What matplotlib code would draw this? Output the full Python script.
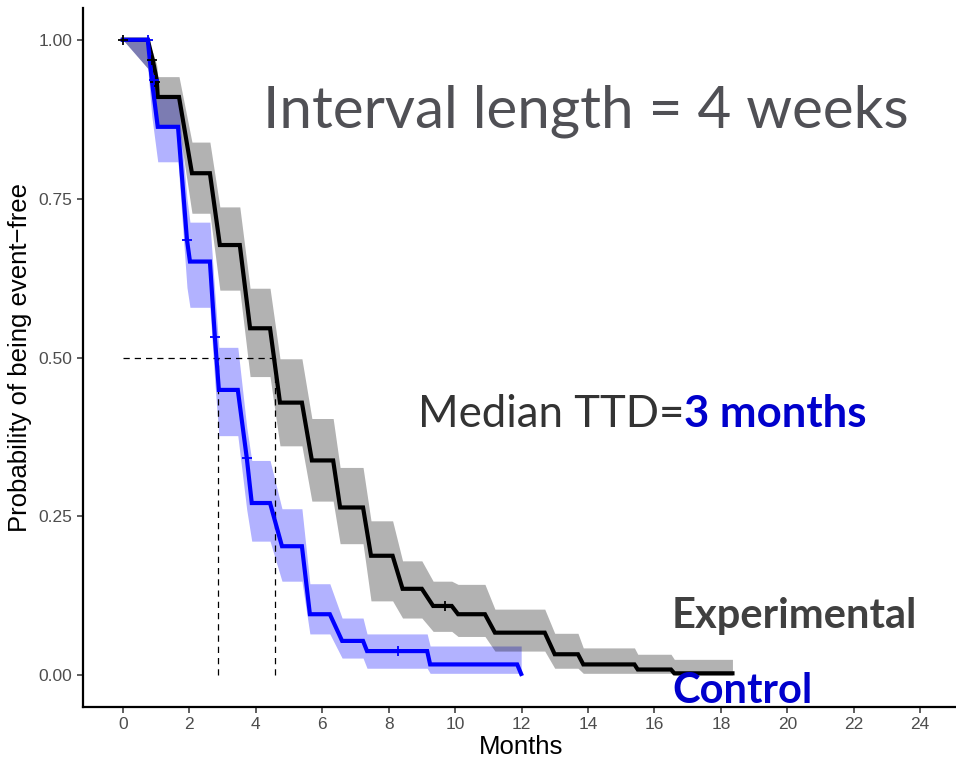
import matplotlib
matplotlib.use("Agg")
import matplotlib.pyplot as plt

# Experimental arm: KM curve vertices (months, survival) with CI band
exp_t = [0, 0.75, 0.9, 1.02, 1.05, 1.69, 2.08, 2.62, 2.92, 3.52, 3.83, 4.43, 4.73, 5.39,
         5.69, 6.33, 6.54, 7.23, 7.47, 8.12, 8.42, 9.0, 9.34, 9.9, 10.09, 10.9, 11.2,
         12.7, 13.0, 13.7, 13.86, 15.4, 15.5, 16.5, 16.6, 18.35]
exp_s = [1.0, 1.0, 0.968, 0.937, 0.91, 0.91, 0.79, 0.79, 0.677, 0.677, 0.546, 0.546,
         0.429, 0.429, 0.338, 0.338, 0.264, 0.264, 0.188, 0.188, 0.136, 0.136, 0.109,
         0.109, 0.096, 0.096, 0.067, 0.067, 0.033, 0.033, 0.017, 0.017, 0.009, 0.009,
         0.003, 0.003]
exp_hi = [1.0, 1.0, 0.98, 0.96, 0.942, 0.942, 0.839, 0.839, 0.737, 0.737, 0.609, 0.609,
          0.498, 0.498, 0.404, 0.404, 0.327, 0.327, 0.243, 0.243, 0.18, 0.18, 0.148,
          0.148, 0.143, 0.143, 0.104, 0.104, 0.066, 0.066, 0.043, 0.043, 0.033, 0.033,
          0.025, 0.025]
exp_lo = [1.0, 0.955, 0.92, 0.885, 0.863, 0.863, 0.727, 0.727, 0.606, 0.606, 0.47, 0.47,
          0.361, 0.361, 0.274, 0.274, 0.207, 0.207, 0.117, 0.117, 0.09, 0.09, 0.069,
          0.069, 0.061, 0.061, 0.038, 0.038, 0.011, 0.011, 0.003, 0.003, 0.003, 0.003,
          0.0, 0.0]
exp_cens_t = [0, 0.87, 0.96, 9.7]
exp_cens_s = [1.0, 0.968, 0.934, 0.109]

# Control arm
ctl_t = [0, 0.75, 0.87, 1.05, 1.66, 1.93, 2.02, 2.62, 2.77, 2.89, 3.46, 3.73, 3.88, 4.43,
         4.79, 5.39, 5.63, 6.23, 6.6, 7.23, 7.35, 9.16, 9.25, 11.87, 11.99]
ctl_s = [1.0, 1.0, 0.937, 0.863, 0.863, 0.685, 0.651, 0.651, 0.532, 0.449, 0.449, 0.342,
         0.271, 0.271, 0.203, 0.203, 0.096, 0.096, 0.054, 0.054, 0.038, 0.038, 0.017,
         0.017, 0.002]
ctl_hi = [1.0, 1.0, 0.96, 0.909, 0.909, 0.75, 0.713, 0.713, 0.6, 0.516, 0.516, 0.39,
          0.338, 0.338, 0.262, 0.262, 0.144, 0.144, 0.09, 0.09, 0.065, 0.065, 0.046,
          0.046, 0.046]
ctl_lo = [1.0, 0.955, 0.88, 0.808, 0.808, 0.61, 0.579, 0.579, 0.46, 0.377, 0.377, 0.26,
          0.211, 0.211, 0.148, 0.148, 0.065, 0.065, 0.027, 0.027, 0.011, 0.011, 0.003,
          0.003, 0.003]
ctl_cens_t = [0.75, 0.93, 1.93, 2.77, 3.73, 8.28]
ctl_cens_s = [1.0, 0.937, 0.685, 0.532, 0.342, 0.038]

ctl_median = 2.86
exp_median = 4.57

x_ticks = list(range(0, 25, 2))
y_ticks = [0.0, 0.25, 0.5, 0.75, 1.0]

plt.rcParams['font.family'] = ['Liberation Sans', 'DejaVu Sans']

fig = plt.figure(figsize=(9.56, 7.58), dpi=100)
ax = fig.add_axes([83 / 956, 1 - 707 / 758, 877 / 956, 699 / 758])

ax.fill_between(ctl_t, ctl_lo, ctl_hi, color="#0000ff", alpha=0.3, lw=0)
ax.fill_between(exp_t, exp_lo, exp_hi, color="black", alpha=0.3, lw=0)

ax.plot([0, exp_median], [0.5, 0.5], color="black", lw=0.9, ls=(0, (5, 4)))
ax.plot([ctl_median, ctl_median], [0, 0.5], color="black", lw=0.9, ls=(0, (5, 4)))
ax.plot([exp_median, exp_median], [0, 0.5], color="black", lw=0.9, ls=(0, (5, 4)))

ax.plot(exp_t, exp_s, color="black", lw=3, solid_joinstyle="miter")
ax.plot(ctl_t, ctl_s, color="#0000ff", lw=3, solid_joinstyle="miter")
ax.plot(exp_cens_t, exp_cens_s, ls="none", marker="+", ms=7, mew=1.3, color="black")
ax.plot(ctl_cens_t, ctl_cens_s, ls="none", marker="+", ms=7, mew=1.3, color="#0000ff")

ax.set_xlim(-1.2, 25.2)
ax.set_ylim(-0.05, 1.05)
ax.set_xticks(x_ticks)
ax.set_yticks(y_ticks)
ax.set_yticklabels([f"{v:.2f}" for v in y_ticks])
ax.tick_params(labelsize=12.5, colors="#333333", length=4.5, width=1.1,
               labelcolor="#4d4d4d", pad=3)
for side in ["top", "right"]:
    ax.spines[side].set_visible(False)
for side in ["left", "bottom"]:
    ax.spines[side].set_linewidth(1.6)
ax.set_xlabel("Months", fontsize=18.5, labelpad=2)
ax.set_ylabel("Probability of being event\u2212free", fontsize=18.5, labelpad=5)

big = ['Lato', 'DejaVu Sans']
fig.text(263 / 956, 1 - 127 / 758, "Interval length = 4 weeks", family=big,
         fontsize=42, color="#505055", ha="left", va="baseline")
t1 = fig.text(418 / 956, 1 - 427 / 758, "Median TTD=", family=big,
              fontsize=31.5, color="#333333", ha="left", va="baseline")
fig.canvas.draw()
bb = t1.get_window_extent()
fig.text(bb.x1 / 956, 1 - 427 / 758, "3 months", family=big, fontweight="bold",
         fontsize=31.5, color="#0000cc", ha="left", va="baseline")
fig.text(672 / 956, 1 - 628 / 758, "Experimental", family=big, fontweight="bold",
         fontsize=30, color="#404040", ha="left", va="baseline")
fig.text(672 / 956, 1 - 703 / 758, "Control", family=big, fontweight="bold",
         fontsize=30, color="#0000cc", ha="left", va="baseline")

fig.savefig("out.png", dpi=100)
